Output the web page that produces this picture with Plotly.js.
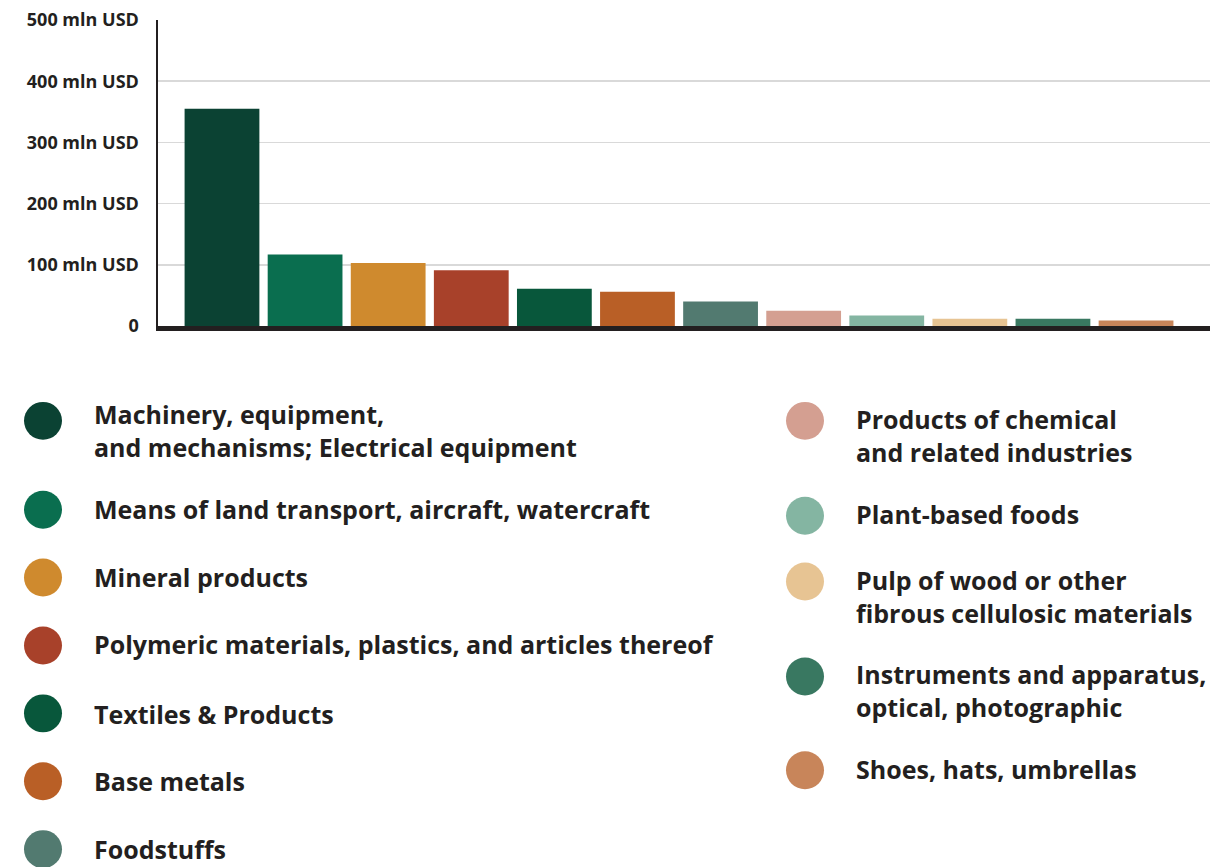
<!DOCTYPE html>
<html>
<head>
<meta charset="utf-8">
<script src="https://cdn.plot.ly/plotly-3.0.1.min.js"></script>
<style>
  html, body { margin: 0; padding: 0; background: #ffffff; }
  #chart { width: 1230px; height: 867px; }
</style>
</head>
<body>
<div id="chart"></div>
<script>
// ---- data ----
const categories = [
  "Machinery, equipment,<br>and mechanisms; Electrical equipment",
  "Means of land transport, aircraft, watercraft",
  "Mineral products",
  "Polymeric materials, plastics, and articles thereof",
  "Textiles & Products",
  "Base metals",
  "Foodstuffs",
  "Products of chemical<br>and related industries",
  "Plant-based foods",
  "Pulp of wood or other<br>fibrous cellulosic materials",
  "Instruments and apparatus,<br>optical, photographic",
  "Shoes, hats, umbrellas"
];
const values = [355, 117, 103, 91, 61, 56, 40, 25, 17, 12, 12, 9];
const colors = ["#0b4233", "#0a6e4f", "#cf8a2e", "#a8412a", "#08573b", "#b95f26",
                "#527a70", "#d49f91", "#84b5a2", "#e7c493", "#397861", "#c8855a"];
const tickVals = [0, 100, 200, 300, 400, 500];
const tickText = ["0", "100 mln USD", "200 mln USD", "300 mln USD", "400 mln USD", "500 mln USD"];

// ---- layout helpers (pixel positions of the custom legend) ----
const W = 1230, H = 867;
const mL = 158, mR = 20, mT = 19.5, mB = 541;
const plotW = W - mL - mR, plotH = H - mT - mB;
const px2x = p => (p - mL) / plotW;
const px2y = p => (H - mB - p) / plotH;

// legend rows: [circleX, circleY, textX, firstLineCenterY]
const legendPos = [
  [43, 421, 92, 415], [43, 510, 92, 509], [43, 578, 92, 577], [43, 646, 92, 645],
  [43, 714, 92, 715], [43, 782, 92, 782], [43, 850, 92, 850],
  [805, 421, 854, 420], [805, 516, 854, 514], [805, 582, 854, 582],
  [805, 677, 854, 676], [805, 771, 854, 770]
];
const lineGap = 30.5;
const R = 19;
const textColor = "#231f20";

const shapes = [];
const annotations = [];
categories.forEach((c, i) => {
  const [cx, cy, tx, ty] = legendPos[i];
  const nLines = c.split("<br>").length;
  shapes.push({
    type: "circle", xref: "paper", yref: "paper",
    x0: px2x(cx - R), x1: px2x(cx + R), y0: px2y(cy + R), y1: px2y(cy - R),
    fillcolor: colors[i], line: { width: 0 }, layer: "above"
  });
  annotations.push({
    xref: "paper", yref: "paper", x: px2x(tx), y: px2y(ty + (nLines - 1) * lineGap / 2),
    xanchor: "left", yanchor: "middle", align: "left", showarrow: false,
    text: c,
    font: { family: "Open Sans", size: 25, color: textColor, weight: 700 }
  });
});

const trace = {
  type: "bar",
  x: categories.map((c, i) => "c" + i),
  y: values,
  marker: { color: colors, line: { width: 0 } },
  hoverinfo: "y",
  showlegend: false
};

const layout = {
  width: W, height: H,
  margin: { l: mL, r: mR, t: mT, b: mB, pad: 0 },
  paper_bgcolor: "#ffffff",
  plot_bgcolor: "#ffffff",
  bargap: 0.1,
  showlegend: false,
  xaxis: {
    type: "category",
    range: [-0.77, 11.89],
    showticklabels: false,
    ticks: "",
    showgrid: false,
    zeroline: false,
    showline: true,
    linewidth: 5,
    linecolor: textColor,
    fixedrange: true
  },
  yaxis: {
    range: [0, 500],
    tickvals: tickVals,
    ticktext: tickText,
    ticks: "outside",
    ticklen: 13,
    tickcolor: "rgba(0,0,0,0)",
    tickfont: { family: "Open Sans", size: 18, color: textColor, weight: 700 },
    showgrid: true,
    gridcolor: "#d9d9d9",
    gridwidth: 1.5,
    zeroline: false,
    showline: true,
    linewidth: 2.5,
    linecolor: textColor,
    fixedrange: true
  },
  shapes: shapes,
  annotations: annotations
};

Plotly.newPlot("chart", [trace], layout, { displayModeBar: false, staticPlot: true });
</script>
</body>
</html>
